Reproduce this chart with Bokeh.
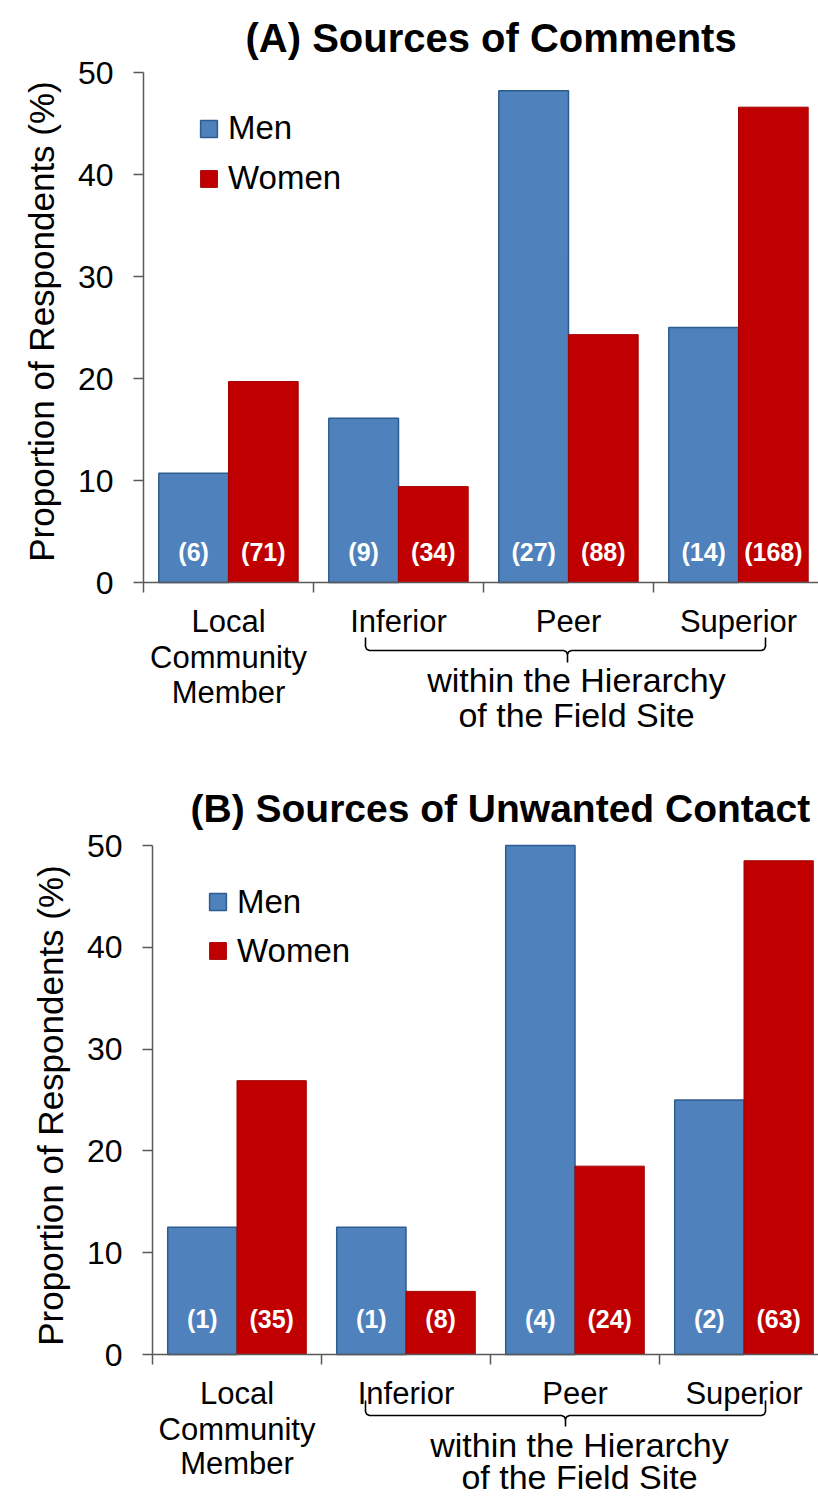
from math import pi

from bokeh.plotting import figure
from bokeh.models import (Range1d, LinearAxis, FixedTicker, Legend, LegendItem,
                          ColumnDataSource)
from bokeh.layouts import column
from bokeh.embed import file_html
from bokeh.resources import INLINE
from bokeh.core.properties import value

# ---------------- data ----------------
categories = ["Local\nCommunity\nMember", "Inferior", "Peer", "Superior"]
series = ["Men", "Women"]
y_ticks = [0, 10, 20, 30, 40, 50]

comments_men_pct = [10.7, 16.1, 48.2, 25.0]
comments_women_pct = [19.7, 9.4, 24.3, 46.6]
comments_men_n = [6, 9, 27, 14]
comments_women_n = [71, 34, 88, 168]

contact_men_pct = [12.5, 12.5, 50.0, 25.0]
contact_women_pct = [26.9, 6.2, 18.5, 48.5]
contact_men_n = [1, 1, 4, 2]
contact_women_n = [35, 8, 24, 63]

titles = ["(A) Sources of Comments", "(B) Sources of Unwanted Contact"]
y_label = "Proportion of Respondents (%)"
group_label = ["within the Hierarchy", "of the Field Site"]

# ---------------- style ----------------
MEN_FILL, MEN_LINE = "#4F81BD", "#2F5C8F"
WOMEN_FILL, WOMEN_LINE = "#C00000", "#A50000"
AXIS_COLOR = "#595959"
TEXT_COLOR = "#000000"
FONT_NAME = "Liberation Sans"
FONT = value(FONT_NAME)
W = 818
PAGE_LEFT = 0

LAYOUT_A = dict(top=0, H=748, axis_x=143, zero_y=582, cat=170, unit=10.2,
                title_left=245, title_cy=37, title_size="40px",
                ylabel_cx=41, ylabel_cy=321,
                legend_left=198, legend_top=103, legend_pitch=50,
                count_cy=551, rows_cy=[621, 657, 692],
                group_cx=576, group_cy=[679, 714],
                brace=dict(xl=365, xr=765, xm=567, ytop=637, yline=650, ybot=662))
LAYOUT_B = dict(top=748, H=747, axis_x=152, zero_y=1354, cat=169, unit=10.18,
                title_left=190, title_cy=808, title_size="39px",
                ylabel_cx=50, ylabel_cy=1105,
                legend_left=207, legend_top=877, legend_pitch=49,
                count_cy=1318, rows_cy=[1393, 1429, 1463],
                group_cx=579, group_cy=[1444, 1476],
                brace=dict(xl=365, xr=765, xm=565, ytop=1400, yline=1415, ybot=1426))


def make_panel(title, men_pct, women_pct, men_n, women_n, L):
    left, top, H = PAGE_LEFT, L["top"], L["H"]
    x0 = L["axis_x"] - left
    y0 = L["zero_y"] - top
    cat, unit = L["cat"], L["unit"]

    def dx(px):
        return (px - left - x0) / cat

    def dy(py):
        return (y0 - (py - top)) / unit

    p = figure(width=W, height=H, output_backend="svg", toolbar_location=None,
               x_axis_type=None, y_axis_type=None,
               x_range=Range1d(-x0 / cat, (W - x0) / cat),
               y_range=Range1d(-(H - y0) / unit, y0 / unit),
               min_border=0, min_border_left=0, min_border_right=0,
               min_border_top=0, min_border_bottom=0)
    p.outline_line_color = None
    p.background_fill_color = "white"
    p.border_fill_color = "white"

    idx = list(range(len(categories)))
    src = ColumnDataSource(dict(
        x_men=[i + 0.295 for i in idx],
        x_women=[i + 0.705 for i in idx],
        men=men_pct, women=women_pct,
        men_lbl=[f"({n})" for n in men_n],
        women_lbl=[f"({n})" for n in women_n],
    ))
    r_m = p.vbar(x="x_men", top="men", bottom=0, width=0.41, source=src,
                 fill_color=MEN_FILL, line_color=MEN_LINE, line_width=1.5)
    r_w = p.vbar(x="x_women", top="women", bottom=0, width=0.41, source=src,
                 fill_color=WOMEN_FILL, line_color=WOMEN_LINE, line_width=1.0)

    cy = dy(L["count_cy"])
    for col, lbl in (("x_men", "men_lbl"), ("x_women", "women_lbl")):
        p.text(x=col, y=cy, text=lbl, source=src, text_color="white",
               text_font=FONT, text_font_style="bold", text_font_size="25px",
               text_align="center", text_baseline="middle")

    # axes
    yaxis = LinearAxis(fixed_location=0, bounds=(0, 50),
                       ticker=FixedTicker(ticks=y_ticks))
    yaxis.axis_line_color = AXIS_COLOR
    yaxis.axis_line_width = 1.5
    yaxis.major_tick_line_color = AXIS_COLOR
    yaxis.major_tick_line_width = 1.5
    yaxis.major_tick_out = 10
    yaxis.major_tick_in = 0
    yaxis.minor_tick_out = 0
    yaxis.minor_tick_in = 0
    yaxis.major_label_standoff = 20
    yaxis.major_label_text_font = FONT_NAME
    yaxis.major_label_text_font_size = "32px"
    yaxis.major_label_text_color = TEXT_COLOR
    p.add_layout(yaxis, "left")

    xaxis = LinearAxis(fixed_location=0, bounds=(0, len(categories)),
                       ticker=FixedTicker(ticks=list(range(len(categories) + 1))))
    xaxis.axis_line_color = AXIS_COLOR
    xaxis.axis_line_width = 1.5
    xaxis.major_tick_line_color = AXIS_COLOR
    xaxis.major_tick_line_width = 1.5
    xaxis.major_tick_out = 10
    xaxis.major_tick_in = 0
    xaxis.minor_tick_out = 0
    xaxis.minor_tick_in = 0
    xaxis.major_label_text_font_size = "0px"
    xaxis.major_label_text_color = None
    p.add_layout(xaxis, "below")

    # category labels
    lx, ly, lt = [], [], []
    for i, c in enumerate(categories):
        for j, line in enumerate(c.split("\n")):
            lx.append(i + 0.5)
            ly.append(dy(L["rows_cy"][j]))
            lt.append(line)
    p.text(x=lx, y=ly, text=lt, text_font=FONT, text_font_size="31px",
           text_color=TEXT_COLOR, text_align="center", text_baseline="middle")

    # group label
    p.text(x=[dx(L["group_cx"])] * 2, y=[dy(v) for v in L["group_cy"]],
           text=group_label, text_font=FONT, text_font_size="34px",
           text_color=TEXT_COLOR, text_align="center", text_baseline="middle")

    # brace
    b = L["brace"]
    xl, xr, xm = dx(b["xl"]), dx(b["xr"]), dx(b["xm"])
    yt, yl, yb = dy(b["ytop"]), dy(b["yline"]), dy(b["ybot"])
    rx, ry = 4 / cat, 4 / unit
    bx = [xl, xl, xl + 0.3 * rx, xl + rx,
          xm - rx, xm - 0.3 * rx, xm, xm, xm, xm + 0.3 * rx, xm + rx,
          xr - rx, xr - 0.3 * rx, xr, xr]
    by = [yt, yl + ry, yl + 0.3 * ry, yl,
          yl, yl - 0.3 * ry, yl - ry, yb, yl - ry, yl - 0.3 * ry, yl,
          yl, yl + 0.3 * ry, yl + ry, yt]
    p.line(bx, by, line_color="black", line_width=1.6)

    # title
    p.text(x=[dx(L["title_left"])], y=[dy(L["title_cy"])], text=[title],
           text_font=FONT, text_font_style="bold", text_font_size=L["title_size"],
           text_color=TEXT_COLOR, text_align="left", text_baseline="middle")

    # y label
    p.text(x=[dx(L["ylabel_cx"])], y=[dy(L["ylabel_cy"])], text=[y_label],
           angle=pi / 2, text_font=FONT, text_font_size="35px",
           text_color=TEXT_COLOR, text_align="center", text_baseline="middle")

    # legend
    pitch = L["legend_pitch"]
    leg = Legend(items=[LegendItem(label=series[0], renderers=[r_m]),
                        LegendItem(label=series[1], renderers=[r_w])],
                 location=(L["legend_left"] - left,
                           H - (L["legend_top"] + 2 * pitch - top)))
    leg.label_text_font = FONT_NAME
    leg.label_text_font_size = "33px"
    leg.label_text_color = TEXT_COLOR
    leg.glyph_width = 21
    leg.glyph_height = 21
    leg.label_standoff = 9
    leg.label_height = pitch
    leg.spacing = 0
    leg.padding = 0
    leg.margin = 0
    leg.border_line_color = None
    leg.background_fill_alpha = 0
    p.add_layout(leg)
    return p


pA = make_panel(titles[0], comments_men_pct, comments_women_pct,
                comments_men_n, comments_women_n, LAYOUT_A)
pB = make_panel(titles[1], contact_men_pct, contact_women_pct,
                contact_men_n, contact_women_n, LAYOUT_B)

layout = column(pA, pB, spacing=0)
open("out.html", "w").write(file_html(layout, INLINE))
